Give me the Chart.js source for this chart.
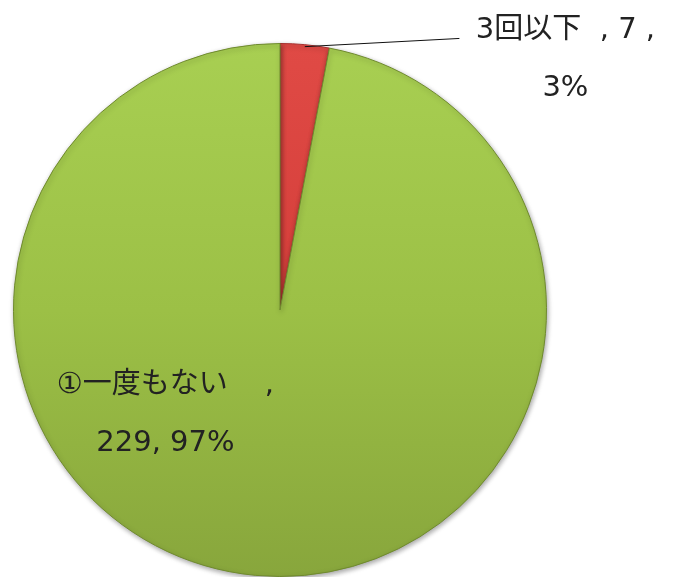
<!DOCTYPE html>
<html>
<head>
<meta charset="utf-8">
<script src="https://cdn.jsdelivr.net/npm/chart.js@4"></script>
<style>
  html, body { margin: 0; padding: 0; background: #fff; }
  #wrap { width: 674px; height: 577px; }
</style>
</head>
<body>
<div id="wrap"><canvas id="pie"></canvas></div>
<script>
// ===== DATA =====
const categories = ["3回以下", "①一度もない"];
const counts = [7, 229];
const percents = [3, 97];

// label lines as shown next to each slice
const labelLines = [
  [categories[0] + "  , " + counts[0] + " ,", percents[0] + "%"],
  [categories[1] + "    ,", counts[1] + ", " + percents[1] + "%"]
];

const FONT = "29px Verdana, 'DejaVu Sans', 'Noto Sans CJK JP', sans-serif";

// vertical gradient fill, like the office-style bevel
function sliceFill(ctx) {
  const chart = ctx.chart;
  const area = chart.chartArea;
  if (!area) return ctx.dataIndex === 0 ? "#d9403e" : "#9cc046";
  const g = chart.ctx.createLinearGradient(0, area.top, 0, area.bottom);
  if (ctx.dataIndex === 0) {
    g.addColorStop(0, "#e04a45");
    g.addColorStop(1, "#c8332f");
  } else {
    g.addColorStop(0, "#a8cf52");
    g.addColorStop(0.5, "#9cc046");
    g.addColorStop(1, "#88a63c");
  }
  return g;
}

// ===== LABEL PLUGIN =====
const sliceLabels = {
  id: "sliceLabels",
  afterDatasetsDraw(chart) {
    const ctx = chart.ctx;
    const arcs = chart.getDatasetMeta(0).data;
    ctx.save();
    ctx.font = FONT;
    ctx.fillStyle = "#222";
    ctx.textAlign = "center";
    ctx.textBaseline = "middle";

    // small slice: leader line from the rim, text up to the right
    const a = arcs[0];
    const r = a.outerRadius;
    const mid = (a.startAngle + a.endAngle) / 2;
    const sx = a.x + Math.cos(mid) * r;
    const sy = a.y + Math.sin(mid) * r + 2;
    const tx = a.x + r * 1.071;
    const ty = a.y - r * 1.049;
    ctx.strokeStyle = "#111";
    ctx.lineWidth = 1;
    ctx.beginPath();
    ctx.moveTo(sx, sy);
    ctx.lineTo(tx - 106, ty + 8);
    ctx.stroke();
    labelLines[0].forEach((t, i) => ctx.fillText(t, tx, ty + i * 58));

    // big slice: text inside, lower left
    const b = arcs[1];
    const bx = b.x - b.outerRadius * 0.43;
    const by = b.y + b.outerRadius * 0.283;
    labelLines[1].forEach((t, i) => ctx.fillText(t, bx, by + i * 58));
    ctx.restore();
  }
};

// soft shadow under the pie
const pieShadow = {
  id: "pieShadow",
  beforeDatasetsDraw(chart) {
    const c = chart.ctx;
    c.save();
    c.shadowColor = "rgba(0,0,0,0.35)";
    c.shadowBlur = 5;
    c.shadowOffsetX = 1;
    c.shadowOffsetY = 2;
  },
  afterDatasetsDraw(chart) {
    chart.ctx.restore();
  }
};

new Chart(document.getElementById("pie"), {
  type: "pie",
  data: {
    labels: categories,
    datasets: [{
      data: counts,
      backgroundColor: sliceFill,
      borderColor: ["#a83230", "#6f8a2e"],
      borderWidth: 1
    }]
  },
  options: {
    responsive: true,
    maintainAspectRatio: false,
    animation: false,
    layout: { padding: { top: 43, bottom: 0, left: 13, right: 127 } },
    plugins: {
      legend: { display: false },
      tooltip: { enabled: false }
    }
  },
  plugins: [pieShadow, sliceLabels]
});
</script>
</body>
</html>
